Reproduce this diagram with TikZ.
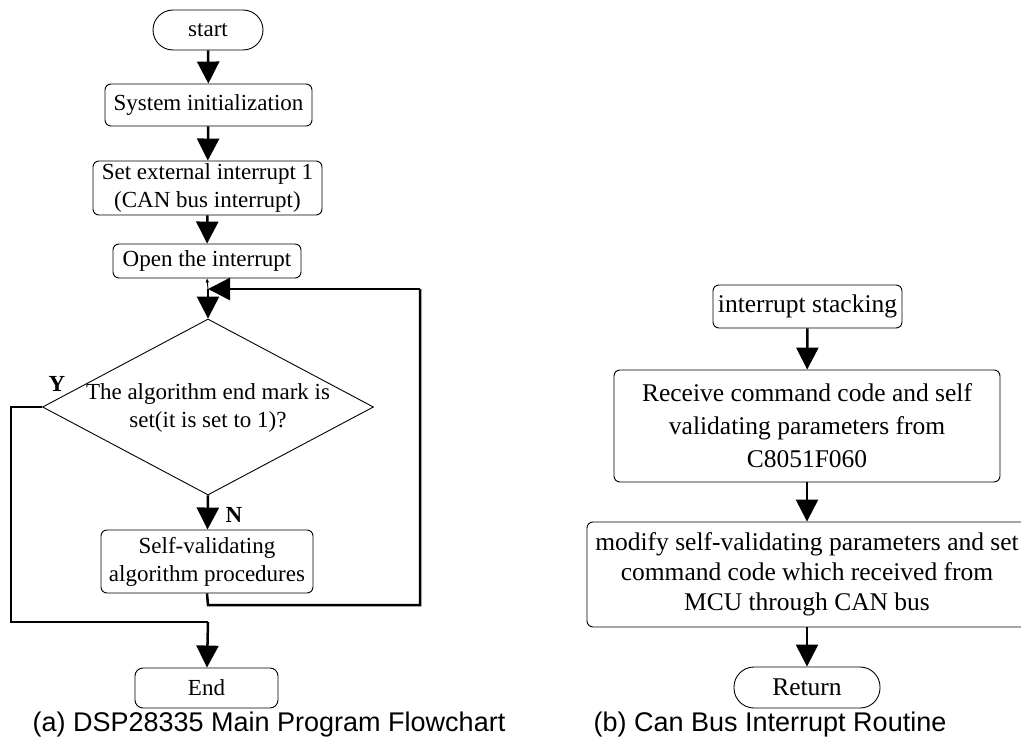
\documentclass[tikz,border=0pt]{standalone}
\usepackage{fontspec}
\setmainfont{Liberation Serif}
\newfontfamily\capfont{Liberation Sans}
\usetikzlibrary{arrows.meta,shapes.geometric}
\begin{document}
\begin{tikzpicture}[x=1pt,y=-1pt,
  every node/.style={inner sep=0pt,align=center,font=\fontsize{23}{28}\selectfont},
  bigtext/.style={font=\fontsize{25.5}{30}\selectfont},
  proc/.style={draw,line width=0.9pt,rounded corners=6pt},
  term/.style={draw,line width=0.9pt,rounded corners=20pt},
  flow/.style={line width=2.5pt,-{Triangle[width=22pt,length=22pt]}},
  wire/.style={line width=2.5pt},
  captext/.style={font=\capfont\fontsize{27}{32}\selectfont}]
\useasboundingbox (0,0) rectangle (1021,744);

% ---- (a) main program ----
\node[term,minimum width=110pt,minimum height=40pt] (start) at (208,30) {start};
\node[proc,minimum width=207pt,minimum height=42pt] (init) at (208.5,105) {System initialization};
\node[proc,minimum width=229pt,minimum height=54pt] (setint) at (207.5,188) {Set external interrupt 1\\(CAN bus interrupt)};
\node[proc,minimum width=188pt,minimum height=34pt] (open) at (207,261) {Open the interrupt};
\coordinate (join) at (208,289);
\node[draw,line width=0.9pt,shape=diamond,minimum width=331pt,minimum height=176pt] (dec) at (208,407) {};
\node at (208,408) {The algorithm end mark is\\set(it is set to 1)?};
\node[proc,minimum width=212pt,minimum height=63pt] (selfv) at (207,561.5) {Self-validating\\algorithm procedures};
\node[proc,rounded corners=8pt,minimum width=143pt,minimum height=40pt] (end) at (206.5,688) {End};
\node[font=\bfseries\fontsize{23}{28}\selectfont] (ylab) at (57,384) {Y};
\node[font=\bfseries\fontsize{23}{28}\selectfont] (nlab) at (234,515) {N};
\coordinate (yl) at (11,407);
\coordinate (yb) at (11,622);
\coordinate (ym) at (208,622);
\coordinate (lb) at (208,605);
\coordinate (rb) at (420,605);
\coordinate (rt) at (420,289);

\draw[flow] (start) -- (init);
\draw[flow] (init) -- (setint);
\draw[flow] (setint) -- (open);
\draw[line width=0.9pt,-{Triangle[width=3pt,length=4pt]}] (join) -- (open.south);
\draw[flow] (join) -- (dec.north);
\draw[flow] (dec.south) -- (selfv);
\draw[wire] (dec.west) -- (yl) -- (yb) -- (ym);
\draw[flow] (ym) -- (end);
\draw[wire] (selfv.south) -- (lb) -- (rb) -- (rt);
\draw[flow] (rt) -- (join);

\node[captext] (capa) at (269,725) {(a) DSP28335 Main Program Flowchart};

% ---- (b) CAN bus interrupt routine ----
\node[proc,bigtext,minimum width=189pt,minimum height=43pt] (stack) at (807.5,306.5) {interrupt stacking};
\node[proc,minimum width=386pt,minimum height=112pt,font=\fontsize{25.5}{33}\selectfont] (recv) at (807,426) {Receive command code and self\\validating parameters from\\C8051F060};
\node[proc,bigtext,minimum width=440pt,minimum height=105pt] (modify) at (807,574.5) {modify self-validating parameters and set\\command code which received from\\MCU through CAN bus};
\node[term,bigtext,minimum width=146pt,minimum height=41pt] (ret) at (807,687.5) {Return};

\draw[flow] (stack) -- (recv);
\draw[flow] (recv) -- (modify);
\draw[flow] (modify) -- (ret);

\node[captext] (capb) at (770,725) {(b) Can Bus Interrupt Routine};
\end{tikzpicture}
\end{document}
